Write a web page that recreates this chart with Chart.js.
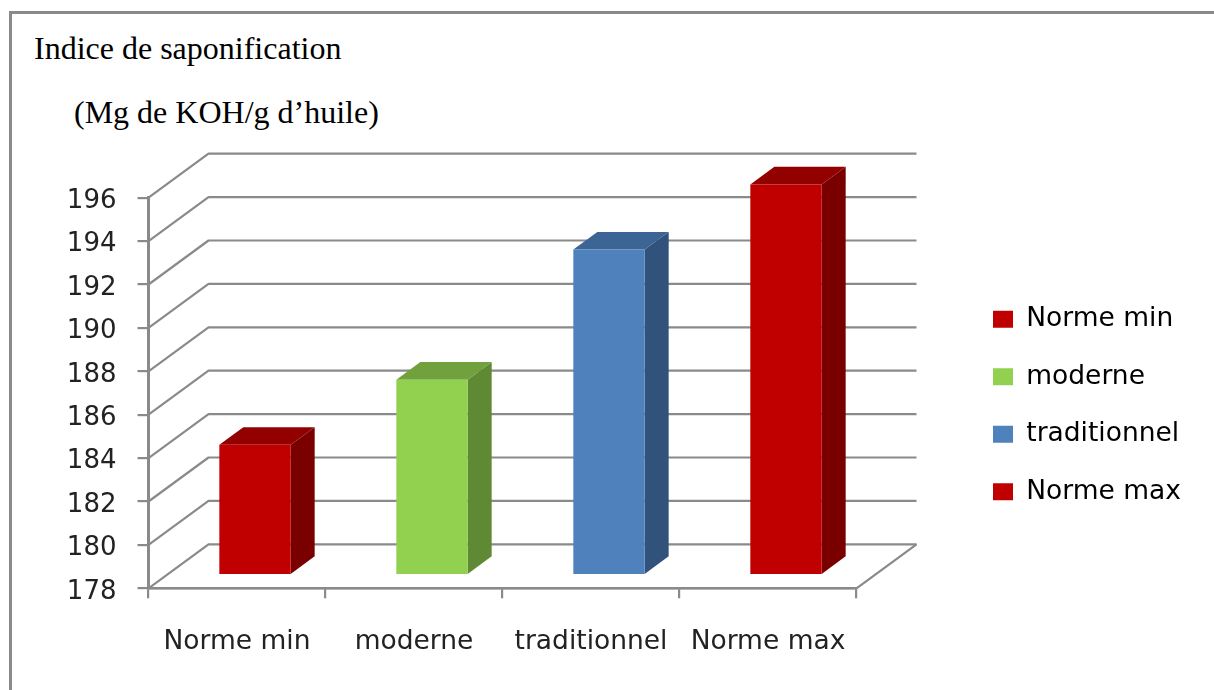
<!DOCTYPE html>
<html lang="fr">
<head>
<meta charset="utf-8">
<title>Indice de saponification</title>
<script src="https://cdn.jsdelivr.net/npm/chart.js@4"></script>
<style>
  html, body { margin: 0; background: #fff; overflow: hidden; }
  #page { position: relative; width: 1214px; height: 690px; overflow: hidden; }
  #frame { position: absolute; left: 9px; top: 11px; width: 1300px; height: 800px;
    border-left: 3px solid #8a8a8a; border-top: 3px solid #8a8a8a; }
  .head { position: absolute; font: 32px "Liberation Serif", serif; color: #000; white-space: nowrap; }
  #chart { position: absolute; left: 0; top: 0; }
</style>
</head>
<body>
<div id="page">
  <div id="frame"></div>
  <div class="head" style="left:34px;top:30px">Indice de saponification</div>
  <div class="head" style="left:74px;top:94px">(Mg de KOH/g d’huile)</div>
  <canvas id="chart" width="1214" height="690"></canvas>
</div>
<script>
/* Indice de saponification — 3D-look column chart */
const categories = ["Norme min", "moderne", "traditionnel", "Norme max"];
const values = [184, 187, 193, 196];
const frontColors = ["#c00000", "#92d050", "#4f81bd", "#c00000"];
const sideColors = ["#7a0000", "#5f8a33", "#31527b", "#7a0000"];
const topColors = ["#920000", "#71a13c", "#3c6494", "#920000"];
const yTicks = [178, 180, 182, 184, 186, 188, 190, 192, 194, 196];

const AXIS_GREY = "#8a8a8a", TEXT = "#222";
const FONT = "'DejaVu Sans'";
// depth of the box: how far the back wall sits from the front plane
const WALL = { dx: 60, dy: -44 };
// columns stand in the middle of the floor, with their own shallower depth
const BAR_SHIFT = { dx: 18, dy: -13.3 };
const BAR_DEPTH = { dx: 24, dy: -17.6 };

function poly(ctx, pts, fill) {
  ctx.beginPath();
  pts.forEach((p, i) => i ? ctx.lineTo(p[0], p[1]) : ctx.moveTo(p[0], p[1]));
  ctx.closePath();
  ctx.fillStyle = fill;
  ctx.fill();
}

const box3d = {
  id: "box3d",
  // legend sits to the right of the box, outside the plot
  afterLayout(chart) {
    const lg = chart.legend;
    lg.left = 993 - lg.options.labels.padding;
    lg.right = 1214;
    lg.top = 275;
    lg.bottom = 690;
  },
  beforeDatasetsDraw(chart) {
    const { ctx, scales: { x, y } } = chart;
    const left = x.left, right = x.right;

    ctx.save();
    ctx.strokeStyle = AXIS_GREY;
    ctx.lineWidth = 2.2;
    ctx.lineJoin = "round";
    yTicks.forEach(v => {
      const py = y.getPixelForValue(v);
      ctx.beginPath();
      ctx.moveTo(left, py);
      ctx.lineTo(left + WALL.dx, py + WALL.dy);
      ctx.lineTo(right + WALL.dx, py + WALL.dy);
      ctx.stroke();
    });
    // floor edge on the right
    const by = y.getPixelForValue(yTicks[0]);
    ctx.beginPath();
    ctx.moveTo(left, by);
    ctx.lineTo(right, by);
    ctx.lineTo(right + WALL.dx, by + WALL.dy);
    ctx.stroke();
    ctx.restore();

    // side and top faces, hung off the bars the library laid out
    chart.getDatasetMeta(0).data.forEach((bar, i) => {
      const x0 = bar.x - bar.width / 2 + BAR_SHIFT.dx;
      const x1 = bar.x + bar.width / 2 + BAR_SHIFT.dx;
      const yt = bar.y + BAR_SHIFT.dy;
      const yb = bar.base + BAR_SHIFT.dy;
      const { dx, dy } = BAR_DEPTH;
      poly(ctx, [[x1, yt], [x1 + dx, yt + dy], [x1 + dx, yb + dy], [x1, yb]], sideColors[i]);
      poly(ctx, [[x0, yt], [x0 + dx, yt + dy], [x1 + dx, yt + dy], [x1, yt]], topColors[i]);
    });
  },
  // the front faces are ordinary bars, just moved onto the column plane
  beforeDatasetDraw(chart) {
    chart.ctx.save();
    chart.ctx.translate(BAR_SHIFT.dx, BAR_SHIFT.dy);
  },
  afterDatasetDraw(chart) {
    chart.ctx.restore();
  },
};

new Chart(document.getElementById("chart"), {
  type: "bar",
  data: {
    labels: categories,
    datasets: [{
      data: values,
      base: yTicks[0],
      backgroundColor: frontColors,
      barPercentage: 0.403,
      categoryPercentage: 1,
      clip: false,
    }],
  },
  options: {
    responsive: false,
    animation: false,
    layout: { padding: { left: 60, right: 357.5, top: 197.7, bottom: 11.7 } },
    plugins: {
      tooltip: { enabled: false },
      legend: {
        position: "chartArea",
        align: "start",
        labels: {
          font: { family: FONT, size: 26.5 },
          color: TEXT,
          boxWidth: 20,
          boxHeight: 17,
          padding: 31,
          generateLabels: () => categories.map((c, i) => ({
            text: c, fillStyle: frontColors[i], strokeStyle: frontColors[i], lineWidth: 0, index: i,
          })),
        },
      },
    },
    scales: {
      x: {
        afterFit(s) { s.height = 90; },
        grid: { drawOnChartArea: false, tickLength: 10, color: AXIS_GREY, lineWidth: 2.2 },
        border: { color: AXIS_GREY, width: 2.2 },
        ticks: { font: { family: FONT, size: 26.5 }, color: TEXT, padding: 28, maxRotation: 0, autoSkip: false },
      },
      y: {
        min: 178,
        max: 196,
        afterFit(s) { s.width = 88.5; },
        afterBuildTicks(s) { s.ticks = yTicks.map(v => ({ value: v })); },
        grid: { drawOnChartArea: false, tickLength: 11, color: AXIS_GREY, lineWidth: 2.2 },
        border: { color: AXIS_GREY, width: 3 },
        ticks: { font: { family: FONT, size: 26 }, color: TEXT, padding: 21, labelOffset: 3.5 },
      },
    },
  },
  plugins: [box3d],
});
</script>
</body>
</html>
